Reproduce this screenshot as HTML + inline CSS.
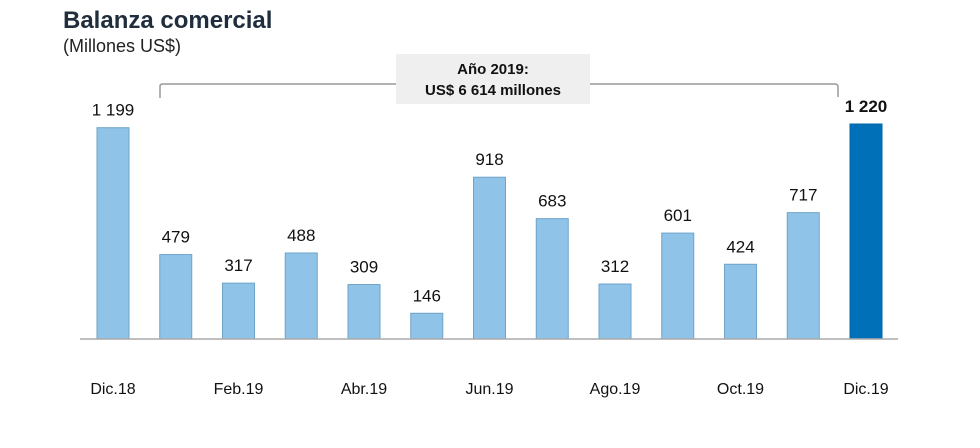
<!DOCTYPE html>
<html><head><meta charset="utf-8"><style>
body{margin:0;background:#fff;font-family:"Liberation Sans",Arial,sans-serif}
svg{display:block}
</style></head><body>
<svg id="chart" width="980" height="448" viewBox="0 0 980 448" xmlns="http://www.w3.org/2000/svg">
<text x="63" y="28" font-size="24" font-weight="bold" fill="#1f2d3d">Balanza comercial</text>
<text x="63" y="52" font-size="18" fill="#222">(Millones US$)</text>
<path d="M160,98 L160,86 Q160,84 163,84 L835,84 Q838,84 838,87 L838,97" fill="none" stroke="#999" stroke-width="1.5"/>
<rect x="396" y="54" width="194" height="50" fill="#efefef"/>
<text x="493" y="74" font-size="15" font-weight="bold" text-anchor="middle" fill="#111">Año 2019:</text>
<text x="493" y="95" font-size="15" font-weight="bold" text-anchor="middle" fill="#111">US$ 6 614 millones</text>
<g id="bars"></g>
<line x1="80" y1="339" x2="898" y2="339" stroke="#aaa" stroke-width="1.5"/>
</svg>
<script>
const categories=["Dic.18","Ene.19","Feb.19","Mar.19","Abr.19","May.19","Jun.19","Jul.19","Ago.19","Sep.19","Oct.19","Nov.19","Dic.19"];
const values=[1199,479,317,488,309,146,918,683,312,601,424,717,1220];
const valueLabels=["1 199","479","317","488","309","146","918","683","312","601","424","717","1 220"];
const tickLabels=["Dic.18","","Feb.19","","Abr.19","","Jun.19","","Ago.19","","Oct.19","","Dic.19"];
const baseY=339, pxPer=215/1220, x0=113, step=62.75, bw=32;
const xs=i=>x0+i*step, ys=v=>baseY-v*pxPer;
const g=document.getElementById('bars'), NS="http://www.w3.org/2000/svg";
values.forEach((v,i)=>{
  const last=i===values.length-1;
  const r=document.createElementNS(NS,'rect');
  
  
  r.setAttribute('x',xs(i)-bw/2);r.setAttribute('y',ys(v));
  r.setAttribute('width',bw);r.setAttribute('height',baseY-ys(v));
  r.setAttribute('fill',last?'#0070b8':'#8fc3e8');
  r.setAttribute('stroke',last?'#0066aa':'#6fa3c8');r.setAttribute('stroke-width','1');
  g.appendChild(r);
  const t=document.createElementNS(NS,'text');
  
  
  t.setAttribute('x',xs(i));t.setAttribute('y',ys(v)-12);
  t.setAttribute('text-anchor','middle');t.setAttribute('font-size','17');
  t.setAttribute('fill','#111');if(last)t.setAttribute('font-weight','bold');
  t.textContent=valueLabels[i];g.appendChild(t);
  if(tickLabels[i]){
    const k=document.createElementNS(NS,'text');
    
    
    k.setAttribute('x',xs(i));k.setAttribute('y',394);
    k.setAttribute('text-anchor','middle');k.setAttribute('font-size','16');k.setAttribute('fill','#111');
    k.textContent=tickLabels[i];g.appendChild(k);
  }
});
</script>
</body></html>
